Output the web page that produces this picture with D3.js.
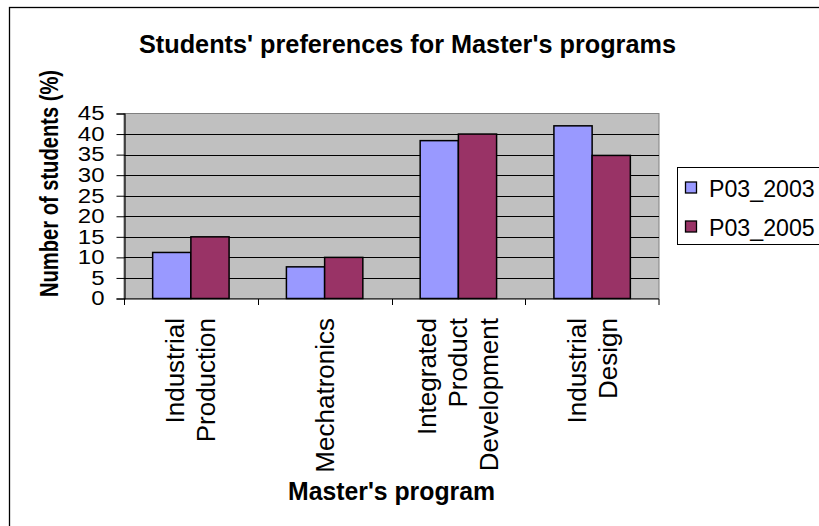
<!DOCTYPE html>
<html>
<head>
<meta charset="UTF-8">
<title>Students' preferences</title>
<script src="https://d3js.org/d3.v7.min.js"></script>
<style>
    body { margin: 0; background: #fff; }
    text { font-family: "Liberation Sans", Arial, sans-serif; fill: #000; }
    .grid line { stroke: #000; stroke-width: 1; }
    .bar { stroke: #000; stroke-width: 1.5; }
</style>
</head>
<body>
<div id="chart"></div>
<script>
    // values
    var categories = ["Industrial Production", "Mechatronics", "Integrated Product Development", "Industrial Design"];
    var seriesNames = ["P03_2003", "P03_2005"];
    var series2003 = [11.2, 7.7, 38.4, 42.0];
    var series2005 = [15.0, 10.0, 40.0, 34.8];
    var yTicks = [0, 5, 10, 15, 20, 25, 30, 35, 40, 45];
    var colors = ["#9999ff", "#993366"];

    var W = 819, H = 526;
    var plot = {left: 124, right: 659, top: 113.5, bottom: 298.5};

    var svg = d3.select("#chart").append("svg")
        .attr("width", W)
        .attr("height", H);

    svg.append("rect").attr("width", W).attr("height", H).attr("fill", "#fff");

    // outer chart frame (runs off the right and bottom of the picture)
    svg.append("rect")
        .attr("x", 9.5).attr("y", 7.5)
        .attr("width", 1000).attr("height", 1000)
        .attr("fill", "none").attr("stroke", "#000").attr("stroke-width", 1.3);

    var x = d3.scaleBand().domain(categories).range([plot.left, plot.right]).padding(0);
    var xs = d3.scaleBand().domain(seriesNames).range([0, x.bandwidth()])
        .paddingInner(0).paddingOuter(0.75);
    var y = d3.scaleLinear().domain([0, 45]).range([plot.bottom, plot.top]);

    // plot area
    svg.append("rect")
        .attr("x", plot.left).attr("y", plot.top)
        .attr("width", plot.right - plot.left).attr("height", plot.bottom - plot.top)
        .attr("fill", "#c0c0c0").attr("stroke", "#808080").attr("stroke-width", 1);

    svg.append("g").attr("class", "grid")
        .selectAll("line")
        .data(yTicks.filter(function(d) { return d > 0 && d < 45; }))
        .enter().append("line")
        .attr("x1", plot.left).attr("x2", plot.right)
        .attr("y1", function(d) { return Math.round(y(d)) + 0.5; })
        .attr("y2", function(d) { return Math.round(y(d)) + 0.5; });

    // bars
    var rows = categories.map(function(c, i) {
        return {cat: c, values: [series2003[i], series2005[i]]};
    });

    var group = svg.selectAll(".grp")
        .data(rows)
        .enter().append("g")
        .attr("class", "grp")
        .attr("transform", function(d) { return "translate(" + x(d.cat) + ",0)"; });

    group.selectAll("rect")
        .data(function(d) { return d.values.map(function(v, k) { return {name: seriesNames[k], value: v, k: k}; }); })
        .enter().append("rect")
        .attr("class", "bar")
        .attr("x", function(d) { return xs(d.name); })
        .attr("y", function(d) { return y(d.value); })
        .attr("width", xs.bandwidth())
        .attr("height", function(d) { return plot.bottom - y(d.value); })
        .attr("fill", function(d) { return colors[d.k]; });

    // y axis
    var yAxis = svg.append("g")
        .attr("transform", "translate(" + (plot.left + 0.5) + ",0)")
        .call(d3.axisLeft(y).tickValues(yTicks).tickSize(8).tickPadding(12).tickFormat(d3.format("d")));
    yAxis.select(".domain").attr("stroke", "#000").attr("stroke-width", 1.2);
    yAxis.selectAll(".tick line").attr("stroke", "#000");
    yAxis.selectAll(".tick text")
        .attr("font-size", 24)
        .attr("font-family", "Liberation Sans, Arial, sans-serif")
        .attr("transform", "scale(1,0.82)");

    // x axis: ticks at category boundaries
    var xAxis = svg.append("g")
        .attr("transform", "translate(0," + (plot.bottom + 0.5) + ")");
    xAxis.append("line")
        .attr("x1", plot.left).attr("x2", plot.right)
        .attr("stroke", "#000").attr("stroke-width", 1.2);
    xAxis.selectAll(".xtick")
        .data(categories.concat([null]))
        .enter().append("line")
        .attr("class", "xtick")
        .attr("x1", function(d) { return d ? Math.round(x(d)) + 0.5 : plot.right; })
        .attr("x2", function(d) { return d ? Math.round(x(d)) + 0.5 : plot.right; })
        .attr("y1", 0).attr("y2", 6)
        .attr("stroke", "#000");

    // category labels, rotated, one word per line
    var lineGap = 31;
    svg.selectAll(".xlab")
        .data(categories)
        .enter().append("g")
        .attr("class", "xlab")
        .each(function(c) {
            var words = c.split(" ");
            var cx = x(c) + x.bandwidth() / 2;
            var g = d3.select(this);
            words.forEach(function(w, i) {
                var lx = cx + (i - (words.length - 1) / 2) * lineGap;
                g.append("text")
                    .attr("transform", "translate(" + lx + ",318) rotate(-90)")
                    .attr("text-anchor", "end")
                    .attr("dominant-baseline", "central")
                    .attr("font-size", 26)
                    .text(w);
            });
        });

    // titles
    svg.append("text")
        .attr("x", 139).attr("y", 53)
        .attr("font-size", 25).attr("font-weight", "bold")
        .attr("textLength", 537).attr("lengthAdjust", "spacingAndGlyphs")
        .text("Students' preferences for Master's programs");

    svg.append("text")
        .attr("x", 288).attr("y", 500)
        .attr("font-size", 25).attr("font-weight", "bold")
        .attr("textLength", 207).attr("lengthAdjust", "spacingAndGlyphs")
        .text("Master's program");

    svg.append("text")
        .attr("transform", "translate(58,297) rotate(-90)")
        .attr("font-size", 26).attr("font-weight", "bold")
        .attr("textLength", 227).attr("lengthAdjust", "spacingAndGlyphs")
        .text("Number of students (%)");

    // legend
    var legend = svg.append("g");
    legend.append("rect")
        .attr("x", 677.5).attr("y", 167.5)
        .attr("width", 200).attr("height", 77)
        .attr("fill", "#fff").attr("stroke", "#000").attr("stroke-width", 1);
    var item = legend.selectAll(".item")
        .data(seriesNames)
        .enter().append("g")
        .attr("class", "item")
        .attr("transform", function(d, i) { return "translate(0," + (188 + i * 39) + ")"; });
    item.append("rect")
        .attr("x", 685.5).attr("y", -6)
        .attr("width", 11).attr("height", 11)
        .attr("fill", function(d, i) { return colors[i]; })
        .attr("stroke", "#000").attr("stroke-width", 1.3);
    item.append("text")
        .attr("x", 709).attr("y", 8.5)
        .attr("font-size", 23.2)
        .text(function(d) { return d; });
</script>
</body>
</html>
